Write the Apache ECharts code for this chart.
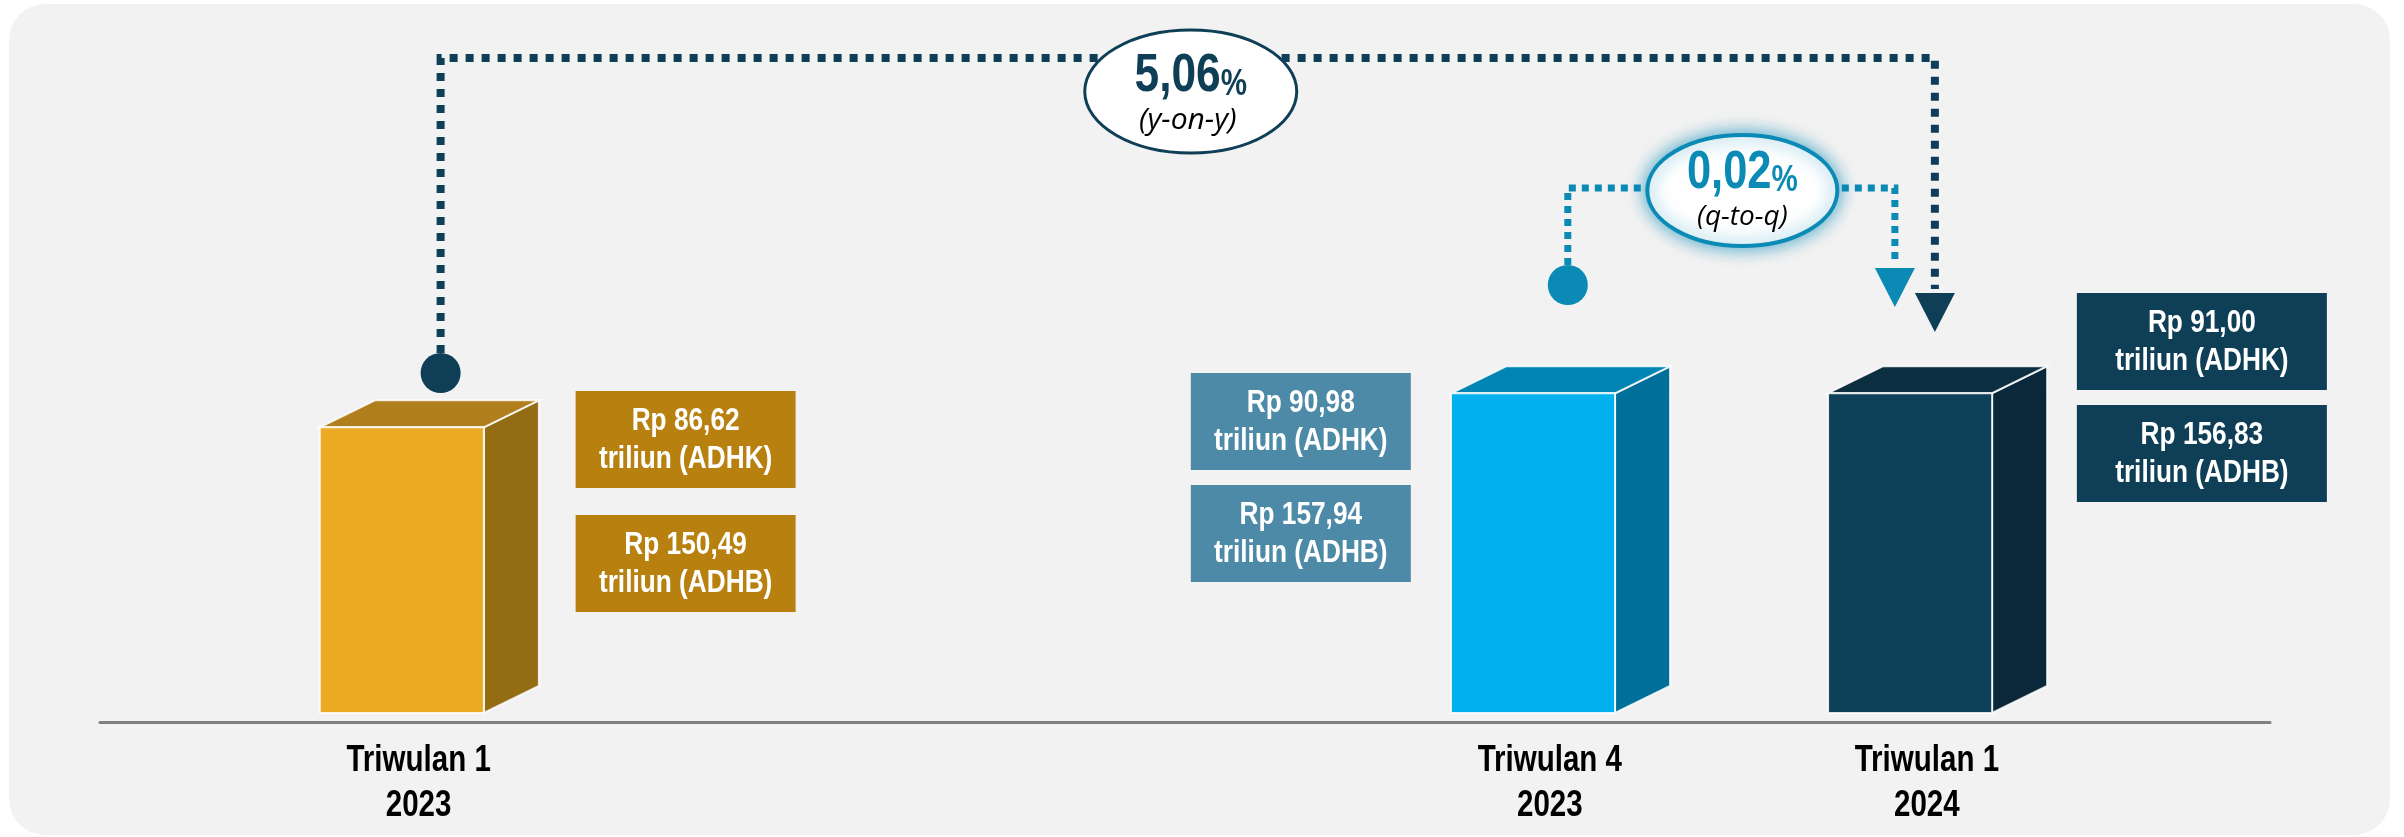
<!DOCTYPE html>
<html><head><meta charset="utf-8">
<script src="https://cdn.jsdelivr.net/npm/echarts@6/dist/echarts.min.js"></script>
<style>
html,body{margin:0;padding:0;background:#ffffff;}
#bg{position:absolute;left:9px;top:4px;width:2381px;height:831px;background:#f2f2f2;border-radius:36px;}
#c{position:absolute;left:0;top:0;width:2404px;height:837px;}
</style>
</head><body><div id="bg"></div><div id="c"></div>
<script>
// ---- data ----
const categories = ['Triwulan 1\n2023', 'Triwulan 4\n2023', 'Triwulan 1\n2024'];
const quarterIndex = [0, 3, 4];            // quarters counted from Triwulan 1 2023
const adhk = [86.62, 90.98, 91.00];        // Rp triliun, constant prices
const adhb = [150.49, 157.94, 156.83];     // Rp triliun, current prices
const yoyGrowth = 5.06;                    // % y-on-y
const qtqGrowth = 0.02;                    // % q-to-q

// ---- styles / layout ----
const SANS = '"Liberation Sans","Arial",sans-serif';
const NARROW_SCALE = 0.82;                 // emulate Arial Narrow
const ITALIC = '"Open Sans","Noto Sans",sans-serif';
const barColors = [
  {front:'#EBAA24', top:'#B07E1C', side:'#946C13', box:'#B8810F'},
  {front:'#00B0EF', top:'#0084B4', side:'#006F99', box:'#4D8AA8'},
  {front:'#0D4159', top:'#0B2E40', side:'#0A2839', box:'#0E3F57'}
];
const boxLayout = [
  {dx:157, w:220, y1:391, y2:515},
  {dx:-359, w:220, y1:373, y2:485},
  {dx:150, w:250, y1:293, y2:405}
];
const BOX_H = 97;
const Y_MIN = 50, Y_MAX = 100;
const fmt = v => v.toFixed(2).replace('.', ',');

const chart = echarts.init(document.getElementById('c'), null, {renderer:'canvas'});

function narrowText(x, y, text, font, fill, lineHeight, z) {
  return {type:'text', x, y, scaleX:NARROW_SCALE, z2: z || 0,
    style:{text, x:0, y:0, fill, font, align:'center', verticalAlign:'middle', lineHeight}};
}

function renderItem(params, api) {
  const x = api.value(0), v = api.value(1), i = api.value(2);
  const top = api.coord([x, v]);
  const base = api.coord([x, Y_MIN]);
  const unit = api.size([1, 0])[0];
  const fl = top[0] - 0.262 * unit, fw = 0.435 * unit, dx = 0.146 * unit, dy = 27;
  const fr = fl + fw, ty = top[1], by = base[1];
  const c = barColors[i];
  const edge = {stroke:'rgba(255,255,255,0.85)', lineWidth:2};
  const children = [
    {type:'polygon', shape:{points:[[fr,ty],[fr+dx,ty-dy],[fr+dx,by-dy],[fr,by]]}, style:Object.assign({fill:c.side}, edge)},
    {type:'polygon', shape:{points:[[fl,ty],[fl+dx,ty-dy],[fr+dx,ty-dy],[fr,ty]]}, style:Object.assign({fill:c.top}, edge)},
    {type:'rect', shape:{x:fl, y:ty, width:fw, height:by-ty}, style:Object.assign({fill:c.front}, edge)}
  ];
  const L = boxLayout[i];
  const bx = top[0] + L.dx;
  const texts = ['Rp ' + fmt(adhk[i]) + '\ntriliun (ADHK)', 'Rp ' + fmt(adhb[i]) + '\ntriliun (ADHB)'];
  [L.y1, L.y2].forEach((yy, k) => {
    children.push({type:'rect', shape:{x:bx, y:yy, width:L.w, height:BOX_H}, style:{fill:c.box}});
    children.push(narrowText(bx + L.w/2, yy + BOX_H/2 + 1, texts[k], 'bold 32px ' + SANS, '#ffffff', 38));
  });
  // category label under the axis
  children.push(narrowText(top[0], by + 71, categories[i], 'bold 36px ' + SANS, '#000000', 45));
  return {type:'group', children};
}

chart.setOption({
  animation:false,
  grid:{left:100, right:134, top:323, bottom:124},
  xAxis:{type:'value', min:-0.845, max:4.91, offset:9,
    axisLine:{show:true, onZero:false, lineStyle:{color:'#808080', width:3}},
    axisTick:{show:false}, splitLine:{show:false}, axisLabel:{show:false}},
  yAxis:{type:'value', min:Y_MIN, max:Y_MAX, show:false},
  series:[{type:'custom', renderItem, clip:false, data: quarterIndex.map((q, i) => [q, adhk[i], i])}]
});

// ---- growth annotations anchored on the bars ----
const px = i => chart.convertToPixel({gridIndex:0}, [quarterIndex[i], Y_MIN])[0];
const DARK = '#0E3F57', LIGHT = '#0A8AB5';
const g = [];
function bracket(x0, x1, yLine, dotY, triTop, triBot, color, lw, dash, dotR) {
  g.push({type:'polyline', shape:{points:[[x0, dotY - dotR], [x0, yLine], [x1, yLine], [x1, triTop - 4]]},
    style:{stroke:color, lineWidth:lw, lineDash:dash, fill:null}, z:10});
  g.push({type:'circle', shape:{cx:x0, cy:dotY, r:dotR}, style:{fill:color}, z:11});
  g.push({type:'polygon', shape:{points:[[x1-20, triTop], [x1+20, triTop], [x1, triBot]]}, style:{fill:color}, z:11});
}
const y0 = px(0) + 22, y1 = px(2) + 8;
bracket(y0, y1, 58, 373, 293, 332, DARK, 8, [8, 8], 20);
const q0 = px(1) + 18, q1 = px(2) - 32;
bracket(q0, q1, 188, 285, 268, 307, LIGHT, 7, [7, 6], 20);

function bigPct(cx, cy, value, color, size) {
  return {type:'text', x:cx, y:cy, z:21, scaleX:NARROW_SCALE,
    style:{text:'{a|' + fmt(value) + '}{b|%}', x:0, y:0, align:'center', verticalAlign:'middle',
      rich:{a:{font:'bold ' + size + 'px ' + SANS, fill:color, lineHeight:size, verticalAlign:'bottom'},
            b:{font:'bold ' + Math.round(size*0.67) + 'px ' + SANS, fill:color, lineHeight:Math.round(size*0.74), verticalAlign:'bottom'}}}};
}

const ey = (y0 + y1) / 2 + 3;
g.push({type:'ellipse', shape:{cx:ey, cy:91.5, rx:106, ry:61.5}, style:{fill:'#ffffff', stroke:DARK, lineWidth:3}, z:20});
g.push(bigPct(ey, 76, yoyGrowth, DARK, 54));
g.push({type:'text', x:ey - 3, y:120, z:21, style:{text:'(y-on-y)', font:'italic 30px ' + ITALIC, fill:'#000', align:'center', verticalAlign:'middle'}});

const eq = (q0 + q1) / 2 + 11;
g.push({type:'ellipse', shape:{cx:eq, cy:190.5, rx:95, ry:55.5}, style:{fill:'#ffffff', stroke:LIGHT, lineWidth:4, shadowBlur:18, shadowColor:'rgba(10,138,181,0.75)'}, z:20});
g.push(bigPct(eq, 173, qtqGrowth, LIGHT, 53));
g.push({type:'text', x:eq, y:217, z:21, style:{text:'(q-to-q)', font:'italic 28px ' + ITALIC, fill:'#000', align:'center', verticalAlign:'middle'}});

chart.setOption({graphic:{elements:g}});
</script>
</body></html>
